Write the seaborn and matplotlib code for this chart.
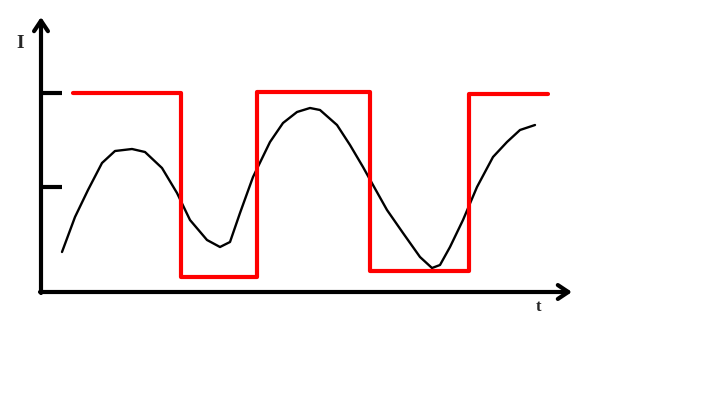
import matplotlib
matplotlib.use("Agg")
import matplotlib.pyplot as plt
import seaborn as sns
import pandas as pd

# Data (t and I in arbitrary units)
square_t = [32, 140, 216, 329, 428, 507]
square_i = [199, 15, 200, 21, 198, 198]

wave_t = [21, 34, 47, 61, 74, 91, 104, 121, 136, 149, 166, 179, 189, 199, 212,
          229, 242, 256, 269, 279, 296, 309, 322, 332, 346, 362, 379, 391, 399,
          409, 422, 436, 452, 466, 479, 494]
wave_i = [40, 75, 102, 129, 141, 143, 140, 124, 99, 72, 52, 45, 50, 79, 115,
          150, 169, 180, 184, 182, 167, 147, 125, 107, 82, 59, 35, 24, 27,
          45, 72, 105, 135, 150, 162, 167]

tick_levels = [105, 199]

sns.set_style("white")

fig = plt.figure(figsize=(7.2, 4.0), dpi=100)
ax = fig.add_axes([41 / 720, 108 / 400, 679 / 720, 292 / 400])

sq = pd.DataFrame({"t": square_t, "I": square_i})
wv = pd.DataFrame({"t": wave_t, "I": wave_i})

sns.lineplot(data=wv, x="t", y="I", ax=ax, color="black", lw=1.7,
             sort=False, estimator=None, solid_joinstyle="round",
             solid_capstyle="round")
sns.lineplot(data=sq, x="t", y="I", ax=ax, color="#ff0000", lw=3.0,
             drawstyle="steps-post", sort=False, estimator=None)

ax.set_xlim(0, 679)
ax.set_ylim(0, 292)
for s in ax.spines.values():
    s.set_visible(False)
ax.set_xlabel("")
ax.set_ylabel("")
ax.set_xticks([])
ax.set_yticks(tick_levels)
ax.tick_params(axis="y", direction="in", length=15, width=3, color="black",
               labelleft=False, left=True)

arrow = dict(arrowstyle="->,head_length=0.75,head_width=0.5", lw=3,
             color="black", shrinkA=0, shrinkB=0)
ax.annotate("", xy=(0, 275), xytext=(0, -1), xycoords="data",
            arrowprops=arrow, annotation_clip=False)
ax.annotate("", xy=(531, 0), xytext=(-1, 0), xycoords="data",
            arrowprops=arrow, annotation_clip=False)

fig.text(20 / 720, 1 - 44 / 400, "I", ha="center", va="center",
         fontsize=14, fontweight="bold", family="Liberation Serif")
fig.text(539 / 720, 1 - 307 / 400, "t", ha="center", va="center",
         fontsize=12, fontweight="bold", family="Liberation Serif")

fig.savefig("out.png", dpi=100)
